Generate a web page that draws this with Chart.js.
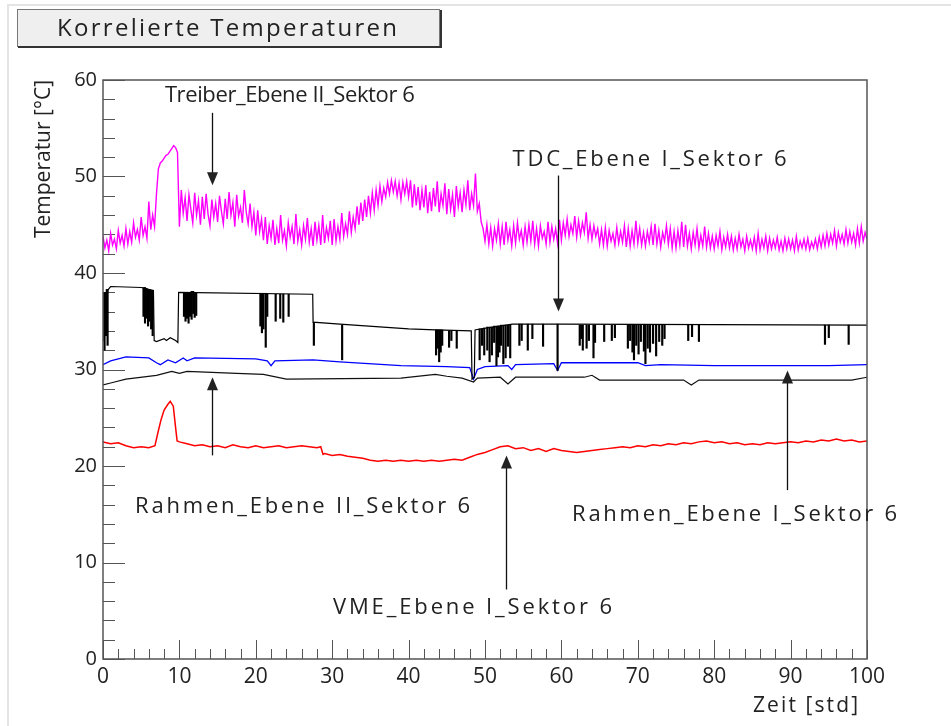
<!DOCTYPE html>
<html>
<head>
<meta charset="utf-8">
<script src="https://cdn.jsdelivr.net/npm/chart.js@4/dist/chart.umd.min.js"></script>
<style>
  html, body { margin: 0; padding: 0; background: #ffffff; }
  #wrap { position: relative; width: 951px; height: 726px; }
  canvas { display: block; }
</style>
</head>
<body>
<div id="wrap"><canvas id="c" width="951" height="726"></canvas></div>
<script>
// ---------------- DATA ----------------
const chartTitle = 'Korrelierte Temperaturen';
const xAxisTitle = 'Zeit [std]';
const yAxisTitle = 'Temperatur [°C]';
const xTickValues = [0, 10, 20, 30, 40, 50, 60, 70, 80, 90, 100];
const yTickValues = [0, 10, 20, 30, 40, 50, 60];

// Treiber_Ebene II_Sektor 6 (magenta), quarter-hour samples
const treiberTime = [
0,0.25,0.5,0.75,1,1.25,1.5,1.75,2,2.25,2.5,2.75,3,3.25,3.5,3.75,4,4.25,4.5,4.75,5,5.25,5.5,5.75,6,6.25,6.5,6.75,7,7.25,7.5,7.75,8,8.25,8.5,8.75,9,9.25,9.5,9.75,
10,10.25,10.5,10.75,11,11.25,11.5,11.75,12,12.25,12.5,12.75,13,13.25,13.5,13.75,14,14.25,14.5,14.75,15,15.25,15.5,15.75,16,16.25,16.5,16.75,17,17.25,17.5,17.75,18,18.25,18.5,18.75,19,19.25,19.5,19.75,
20,20.25,20.5,20.75,21,21.25,21.5,21.75,22,22.25,22.5,22.75,23,23.25,23.5,23.75,24,24.25,24.5,24.75,25,25.25,25.5,25.75,26,26.25,26.5,26.75,27,27.25,27.5,27.75,28,28.25,28.5,28.75,29,29.25,29.5,29.75,
30,30.25,30.5,30.75,31,31.25,31.5,31.75,32,32.25,32.5,32.75,33,33.25,33.5,33.75,34,34.25,34.5,34.75,35,35.25,35.5,35.75,36,36.25,36.5,36.75,37,37.25,37.5,37.75,38,38.25,38.5,38.75,39,39.25,39.5,39.75,
40,40.25,40.5,40.75,41,41.25,41.5,41.75,42,42.25,42.5,42.75,43,43.25,43.5,43.75,44,44.25,44.5,44.75,45,45.25,45.5,45.75,46,46.25,46.5,46.75,47,47.25,47.5,47.75,48,48.25,48.5,48.75,49,49.25,49.5,49.75,
50,50.25,50.5,50.75,51,51.25,51.5,51.75,52,52.25,52.5,52.75,53,53.25,53.5,53.75,54,54.25,54.5,54.75,55,55.25,55.5,55.75,56,56.25,56.5,56.75,57,57.25,57.5,57.75,58,58.25,58.5,58.75,59,59.25,59.5,59.75,
60,60.25,60.5,60.75,61,61.25,61.5,61.75,62,62.25,62.5,62.75,63,63.25,63.5,63.75,64,64.25,64.5,64.75,65,65.25,65.5,65.75,66,66.25,66.5,66.75,67,67.25,67.5,67.75,68,68.25,68.5,68.75,69,69.25,69.5,69.75,
70,70.25,70.5,70.75,71,71.25,71.5,71.75,72,72.25,72.5,72.75,73,73.25,73.5,73.75,74,74.25,74.5,74.75,75,75.25,75.5,75.75,76,76.25,76.5,76.75,77,77.25,77.5,77.75,78,78.25,78.5,78.75,79,79.25,79.5,79.75,
80,80.25,80.5,80.75,81,81.25,81.5,81.75,82,82.25,82.5,82.75,83,83.25,83.5,83.75,84,84.25,84.5,84.75,85,85.25,85.5,85.75,86,86.25,86.5,86.75,87,87.25,87.5,87.75,88,88.25,88.5,88.75,89,89.25,89.5,89.75,
90,90.25,90.5,90.75,91,91.25,91.5,91.75,92,92.25,92.5,92.75,93,93.25,93.5,93.75,94,94.25,94.5,94.75,95,95.25,95.5,95.75,96,96.25,96.5,96.75,97,97.25,97.5,97.75,98,98.25,98.5,98.75,99,99.25,99.5,99.75,100];
const treiberTemp = [
43.8,42.6,43.4,42.3, 44.1,42.9,43.5,42.5, 44.4,43.1,43.9,42.8, 44.6,43.0,44.3,43.2, 45.2,43.7,44.5,43.4, 45.8,43.9,44.8,43.6, 47.4,44.5,46.0,44.8, 48.2,50.8,51.4,51.6, 51.9,52.2,52.3,52.6, 52.9,53.2,53.0,52.5,
44.8,48.6,46.2,47.8, 45.4,48.1,46.6,45.2, 48.3,46.0,47.5,45.0, 47.9,45.6,48.2,46.1, 44.9,47.6,45.8,47.2, 45.3,48.0,46.4,45.1, 47.7,45.6,48.4,46.0, 47.3,44.8,48.1,45.9, 46.8,45.2,48.6,46.3, 45.1,47.2,44.8,46.3,
43.9,46.5,44.3,45.6, 43.4,45.8,43.0,44.9, 43.6,45.5,42.9,44.6, 43.1,46.0,43.4,44.4, 42.8,45.2,43.7,44.8, 43.0,46.1,43.3,44.5, 42.9,44.9,43.5,45.7, 43.2,44.6,42.8,45.3, 43.4,44.9,42.9,46.0, 43.1,44.7,43.6,45.4,
42.9,45.6,43.3,44.8, 43.5,46.2,43.8,45.1, 44.0,46.4,44.2,45.8, 44.6,46.9,45.0,47.3, 45.4,47.6,45.8,48.0, 46.2,48.3,46.5,48.6, 47.0,49.0,47.4,48.8, 47.9,49.4,48.2,49.6, 48.4,49.5,48.0,49.3, 47.6,49.4,48.2,49.5,
47.9,49.6,46.8,49.2, 47.0,48.9,46.5,48.6, 46.8,49.1,46.2,48.4, 46.4,48.8,46.9,49.5, 46.3,48.2,47.0,49.3, 46.1,48.7,46.6,48.1, 45.8,49.0,46.9,48.3, 46.3,48.6,47.1,49.6, 46.5,48.2,47.0,50.3, 46.4,47.2,45.3,44.6,
43.3,45.0,43.0,44.7, 42.8,44.6,43.4,45.1, 43.0,44.8,42.9,45.3, 43.4,44.5,42.8,44.9, 43.1,45.2,43.5,44.4, 42.9,44.8,43.2,45.0, 43.3,45.4,43.0,44.6, 42.8,44.9,43.6,44.3, 43.0,45.3,43.2,44.8, 43.5,44.6,43.1,45.5,
43.4,45.2,43.9,45.6, 43.8,45.0,44.1,45.9, 43.7,45.4,43.9,45.2, 44.2,46.3,43.6,45.0, 43.5,44.9,43.8,44.6, 43.0,44.5,42.9,44.7, 42.8,44.4,43.3,44.1, 42.9,44.7,43.1,44.3, 43.2,44.9,42.7,44.6, 42.8,44.4,43.0,45.4,
43.1,44.6,42.9,44.2, 42.8,44.3,43.2,44.8, 42.9,45.1,43.0,44.4, 42.7,44.2,43.3,44.9, 43.0,44.6,42.6,44.3, 42.6,44.4,42.9,45.3, 42.7,45.0,42.8,44.1, 42.5,44.2,42.9,44.6, 42.6,43.9,42.8,44.8, 42.7,44.1,42.6,43.8,
42.5,43.9,42.8,44.3, 42.4,43.7,42.7,44.0, 42.6,43.8,42.4,43.6, 42.5,44.0,42.7,43.5, 42.3,43.8,42.6,43.4, 42.5,43.7,42.3,44.1, 42.4,43.5,42.6,43.8, 42.3,43.6,42.5,43.4, 42.6,43.7,42.4,43.3, 42.3,43.6,42.5,43.5,
42.5,43.4,42.3,43.8, 42.4,43.3,42.6,43.5, 42.5,43.6,42.4,43.2, 42.6,43.5,42.5,43.7, 42.7,43.9,42.8,44.1, 42.9,44.0,43.1,44.4, 42.8,44.2,43.2,44.0, 43.0,44.5,43.1,44.3, 43.2,44.1,42.9,44.6, 43.1,44.8,43.3,44.2, 43.5];

// TDC_Ebene I_Sektor 6 (black): the level line ...
const tdcTime = [0,0.7,1.0,5.0,6.6,6.7,7.0,8.0,8.3,8.8,9.5,9.8,9.9,27.45,27.5,31.0,40.0,43.5,48.2,48.3,48.6,48.7,49.3,51.0,53.6,60.0,100];
const tdcTemp = [37.5,38.3,38.6,38.5,38.2,33.0,32.9,33.2,33.0,33.3,33.0,32.8,38.0,37.8,34.9,34.7,34.2,34.1,34.0,29.0,29.2,34.1,34.2,34.4,34.7,34.7,34.6];
// ... and its short drop-outs (time, lowest value, level before the drop)
const tdcDropTime = [0.1,0.2,0.3,0.4,0.5,0.6,5.3,5.5,5.7,5.9,6.1,6.3,6.5,10.6,10.8,11.0,11.2,11.4,11.6,11.8,12.0,12.2,20.6,20.8,21.0,21.3,21.5,22.6,23.2,23.6,24.3,27.6,31.3,43.6,43.8,44.0,44.2,44.4,45.3,45.6,46.3,49.3,49.6,49.9,50.3,50.6,50.9,51.2,51.5,51.7,51.9,52.1,52.4,52.7,53.0,53.3,54.5,54.8,55.6,56.2,57.6,59.5,62.4,62.6,62.8,63.3,63.6,64.2,64.4,65.6,66.6,67.0,68.7,69.0,69.3,69.5,69.8,70.1,70.4,70.8,71.0,71.3,71.6,72.0,72.4,72.8,73.2,73.5,76.6,77.1,78.0,94.5,95.0,97.6];
const tdcDropLow = [33.0,32.0,34.0,33.5,35.0,32.5,35.5,34.8,35.3,34.5,35.0,34.2,33.5,35.5,35.0,35.3,34.8,35.5,35.2,35.8,35.4,35.6,34.5,33.8,34.2,32.3,35.5,35.0,35.3,34.9,35.5,32.5,31.0,31.5,32.2,30.8,31.8,32.5,32.3,33.0,32.2,31.0,32.5,31.5,32.0,30.8,31.5,32.8,30.4,31.3,31.8,32.5,30.6,31.2,32.4,31.2,32.5,33.0,32.0,33.2,32.4,29.9,32.5,33.2,32.0,32.2,33.0,31.2,32.8,32.9,33.0,33.3,32.2,33.0,31.8,31.0,32.5,31.6,32.9,31.9,30.6,32.2,31.8,32.7,31.4,32.9,32.5,33.2,33.0,33.4,32.9,32.6,33.3,32.6];
const tdcDropTop = [38.0,38.0,38.0,38.0,38.3,38.3,38.5,38.5,38.4,38.3,38.3,38.2,38.2,38.0,38.0,38.0,38.0,38.0,38.1,38.1,38.0,38.0,37.9,37.9,37.9,37.9,37.8,37.8,37.8,37.8,37.8,34.9,34.6,34.1,34.1,34.1,34.1,34.1,34.0,34.0,34.0,34.2,34.2,34.3,34.4,34.4,34.4,34.5,34.5,34.5,34.5,34.6,34.6,34.6,34.6,34.6,34.7,34.7,34.7,34.7,34.7,34.7,34.6,34.6,34.6,34.6,34.6,34.6,34.6,34.6,34.6,34.6,34.6,34.6,34.6,34.6,34.6,34.6,34.6,34.6,34.6,34.6,34.6,34.6,34.6,34.6,34.6,34.6,34.6,34.6,34.6,34.6,34.6,34.6];

// Rahmen_Ebene I_Sektor 6 (blue)
const rahmen1Time = [0,1,3,6,7,7.5,8.5,9.5,10.5,11,12,20,21.5,22,22.5,27.5,31,39,45,48,48.5,49,50,53,53.5,54,59,59.5,60,70,71,73,80,95,100];
const rahmen1Temp = [30.5,30.9,31.3,31.2,30.7,30.5,31.0,30.7,31.2,30.9,31.2,31.1,30.9,30.4,30.9,31.0,30.8,30.4,30.3,30.2,29.0,30.0,30.3,30.4,30.0,30.5,30.6,29.9,30.7,30.7,30.4,30.5,30.4,30.4,30.5];

// Rahmen_Ebene II_Sektor 6 (black)
const rahmen2Time = [0,1,3,7,9,10,11,17.5,21,24,39,43.5,45,47,48.5,49,52,53,54,63,64,65,76,77,78,98,100];
const rahmen2Temp = [28.4,28.6,29.0,29.4,29.8,29.6,29.8,29.6,29.5,29.0,29.1,29.5,29.3,29.1,28.7,29.1,29.2,28.5,29.2,29.2,29.4,28.9,28.9,28.4,28.9,28.9,29.2];

// VME_Ebene I_Sektor 6 (red)
const vmeTime = [0,1,2,3,4,5,6,6.8,7.2,7.6,8,8.5,8.8,9.2,9.5,9.7,10,11,12,13,14,15,16,17,18,19,20,21,22,23,24,25,26,27,28,28.5,28.8,29,30,31,32,33,34,35,36,37,38,39,40,41,42,43,44,45,46,47,48,49,50,51,52,53,54,55,56,57,58,59,60,61,62,63,64,65,66,67,68,69,70,71,72,73,74,75,76,77,78,79,80,81,82,83,84,85,86,87,88,89,90,91,92,93,94,95,96,97,98,99,100];
const vmeTemp = [22.5,22.3,22.4,22.1,21.9,22.0,21.9,22.1,23.5,24.8,25.8,26.4,26.7,26.2,24.0,22.6,22.5,22.3,22.1,22.2,22.0,22.1,21.9,22.2,22.0,21.9,22.1,21.9,22.0,22.1,21.9,22.0,22.1,22.0,21.9,22.0,21.2,21.3,21.1,21.2,21.0,20.9,20.8,20.6,20.5,20.6,20.5,20.6,20.5,20.6,20.5,20.6,20.5,20.6,20.7,20.6,20.9,21.2,21.4,21.7,22.0,22.1,21.8,21.9,21.6,21.8,21.5,21.8,21.6,21.5,21.4,21.5,21.6,21.7,21.8,21.9,22.0,21.9,22.1,22.0,22.2,22.1,22.3,22.2,22.4,22.3,22.5,22.6,22.4,22.5,22.3,22.4,22.2,22.3,22.2,22.4,22.3,22.4,22.5,22.4,22.6,22.5,22.7,22.6,22.8,22.6,22.7,22.5,22.6];

// Annotation labels and arrows (in data units)
const annotationTexts = ['Treiber_Ebene II_Sektor 6', 'TDC_Ebene I_Sektor 6', 'Rahmen_Ebene II_Sektor 6', 'Rahmen_Ebene I_Sektor 6', 'VME_Ebene I_Sektor 6'];
const annotationTextAt = [[8.1, 58.4], [53.6, 51.7], [4.2, 15.75], [61.4, 14.9], [30.1, 5.3]];
const annotationArrowFrom = [[14.25, 56.6], [59.6, 50.1], [14.25, 21.1], [89.5, 17.5], [52.8, 7.2]];
const annotationArrowTo = [[14.25, 49.1], [59.6, 36.0], [14.25, 29.2], [89.5, 29.9], [52.8, 21.1]];
const annotationTextWidth = [250, 274, 335, 325, 279];

// ---------------- CHART ----------------
const FONT = "'Open Sans', 'DejaVu Sans', sans-serif";
const TEXT = '#222222';
const pairs = (t, v) => t.map((x, i) => ({ x: x, y: v[i] }));
const drops = tdcDropTime.map((x, i) => ({ x: x, y: [tdcDropLow[i], tdcDropTop[i]] }));

function spacedText(ctx, text, x, y, width, align) {
  ctx.letterSpacing = '0px';
  const w0 = ctx.measureText(text).width;
  const sp = (width - w0) / (text.length - 1);
  ctx.letterSpacing = sp + 'px';
  ctx.textAlign = 'left';
  let left = x;
  if (align === 'center') left = x - width / 2;
  if (align === 'right') left = x - width;
  ctx.fillText(text, left, y);
  ctx.letterSpacing = '0px';
}

const decorPlugin = {
  id: 'decor',
  beforeDraw(chart) {
    const ctx = chart.ctx;
    ctx.save();
    ctx.fillStyle = '#ffffff';
    ctx.fillRect(0, 0, chart.width, chart.height);
    ctx.strokeStyle = '#e4e4e4';
    ctx.lineWidth = 2;
    ctx.beginPath();
    ctx.moveTo(8, 726); ctx.lineTo(8, 5); ctx.lineTo(951, 5);
    ctx.stroke();
    // title box
    ctx.fillStyle = '#efefef';
    ctx.fillRect(17, 9, 423, 38);
    ctx.strokeStyle = '#777777';
    ctx.lineWidth = 1;
    ctx.strokeRect(17.5, 9.5, 422, 37);
    ctx.strokeStyle = '#333333';
    ctx.lineWidth = 2;
    ctx.beginPath();
    ctx.moveTo(18, 47); ctx.lineTo(441, 47); ctx.lineTo(441, 10);
    ctx.stroke();
    ctx.fillStyle = TEXT;
    ctx.font = '24px ' + FONT;
    ctx.textBaseline = 'middle';
    spacedText(ctx, chartTitle, 227, 29, 340, 'center');
    // x axis title
    ctx.font = '21px ' + FONT;
    spacedText(ctx, xAxisTitle, 858, 706, 105, 'right');
    ctx.restore();
  },
  beforeDatasetsDraw(chart) {
    const ctx = chart.ctx;
    const xs = chart.scales.x, ys = chart.scales.y;
    const a = chart.chartArea;
    ctx.save();
    ctx.strokeStyle = '#555555';
    ctx.lineWidth = 1;
    for (let v = 0; v <= 60; v += 2) {
      const py = Math.round(ys.getPixelForValue(v)) + 0.5;
      const len = (v % 10 === 0) ? 22 : 12;
      ctx.beginPath(); ctx.moveTo(a.left, py); ctx.lineTo(a.left + len, py); ctx.stroke();
    }
    for (let v = 0; v <= 100; v += 2) {
      const px = Math.round(xs.getPixelForValue(v)) + 0.5;
      const len = (v % 10 === 0) ? 19 : 10;
      ctx.beginPath(); ctx.moveTo(px, a.bottom); ctx.lineTo(px, a.bottom - len); ctx.stroke();
    }
    ctx.restore();
  },
  afterDatasetsDraw(chart) {
    const ctx = chart.ctx;
    const xs = chart.scales.x, ys = chart.scales.y;
    const a = chart.chartArea;
    ctx.save();
    ctx.strokeStyle = '#555555';
    ctx.lineWidth = 1.5;
    ctx.strokeRect(a.left, a.top, a.right - a.left, a.bottom - a.top);
    ctx.fillStyle = TEXT;
    ctx.strokeStyle = '#111111';
    ctx.font = '22px ' + FONT;
    ctx.textBaseline = 'middle';
    annotationTexts.forEach((t, i) => {
      const tx = xs.getPixelForValue(annotationTextAt[i][0]);
      const ty = ys.getPixelForValue(annotationTextAt[i][1]);
      spacedText(ctx, t, tx, ty, annotationTextWidth[i], 'left');
      const x0 = Math.round(xs.getPixelForValue(annotationArrowFrom[i][0])) + 0.5;
      const y0 = ys.getPixelForValue(annotationArrowFrom[i][1]);
      const x1 = Math.round(xs.getPixelForValue(annotationArrowTo[i][0])) + 0.5;
      const y1 = ys.getPixelForValue(annotationArrowTo[i][1]);
      const dir = y1 > y0 ? 1 : -1;
      ctx.lineWidth = 1.3;
      ctx.beginPath(); ctx.moveTo(x0, y0); ctx.lineTo(x1, y1 - dir * 10); ctx.stroke();
      ctx.beginPath();
      ctx.moveTo(x1, y1);
      ctx.lineTo(x1 - 5.5, y1 - dir * 13);
      ctx.lineTo(x1 + 5.5, y1 - dir * 13);
      ctx.closePath();
      ctx.fill();
    });
    ctx.restore();
  }
};

const ds = (label, t, v, color, w) => ({
  type: 'line', label: label, data: pairs(t, v), borderColor: color, backgroundColor: color,
  borderWidth: w, pointRadius: 0, fill: false, tension: 0
});

new Chart(document.getElementById('c'), {
  type: 'line',
  data: {
    datasets: [
      ds('Treiber_Ebene II_Sektor 6', treiberTime, treiberTemp, '#ff00ff', 1.4),
      ds('TDC_Ebene I_Sektor 6', tdcTime, tdcTemp, '#000000', 1.2),
      { type: 'bar', label: 'TDC drop-outs', data: drops, backgroundColor: '#000000', borderWidth: 0, barThickness: 1.5, grouped: false },
      ds('Rahmen_Ebene I_Sektor 6', rahmen1Time, rahmen1Temp, '#0000ff', 1.3),
      ds('Rahmen_Ebene II_Sektor 6', rahmen2Time, rahmen2Temp, '#111111', 1.2),
      ds('VME_Ebene I_Sektor 6', vmeTime, vmeTemp, '#ff0000', 1.5)
    ]
  },
  options: {
    responsive: false,
    animation: false,
    layout: { padding: { left: 0, top: 80, right: 84, bottom: 0 } },
    plugins: { legend: { display: false }, tooltip: { enabled: false }, title: { display: false } },
    scales: {
      x: {
        type: 'linear', min: 0, max: 100, offset: false,
        afterBuildTicks: s => { s.ticks = xTickValues.map(v => ({ value: v })); },
        ticks: { color: TEXT, font: { family: FONT, size: 21 }, padding: 5, maxRotation: 0, autoSkip: false },
        grid: { display: false, drawTicks: false, offset: false },
        border: { display: false },
        title: { display: false },
        afterFit: s => { s.height = 67; }
      },
      y: {
        type: 'linear', min: 0, max: 60, beginAtZero: false,
        afterBuildTicks: s => { s.ticks = yTickValues.map(v => ({ value: v })); },
        ticks: { color: TEXT, font: { family: FONT, size: 20 }, padding: 6, autoSkip: false },
        grid: { display: false, drawTicks: false },
        border: { display: false },
        title: { display: true, text: yAxisTitle, align: 'end', color: TEXT, font: { family: FONT, size: 21 }, padding: { top: 31, bottom: 0 } },
        afterFit: s => { s.width = 103; }
      }
    }
  },
  plugins: [decorPlugin]
});
</script>
</body>
</html>
